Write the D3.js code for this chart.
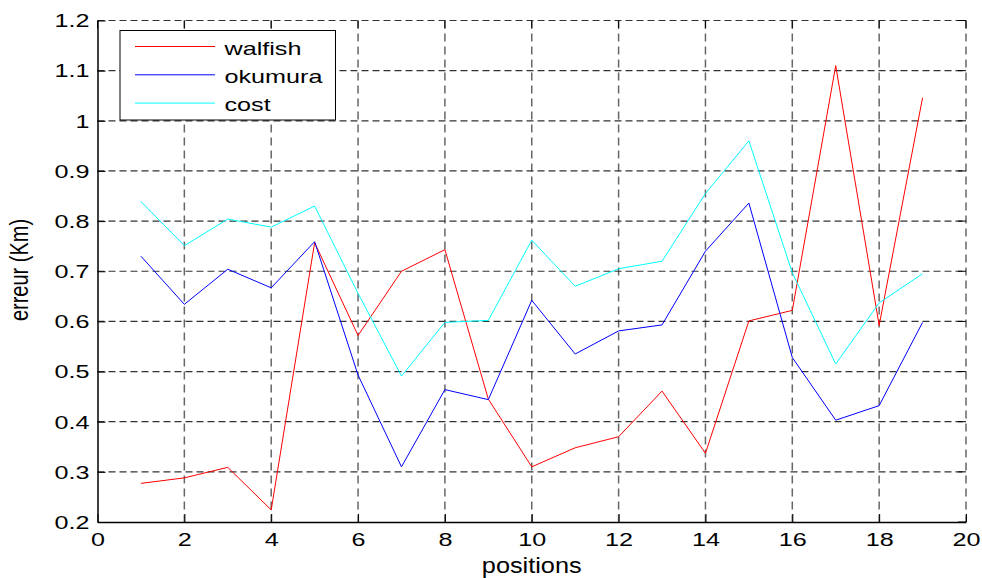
<!DOCTYPE html>
<html><head><meta charset="utf-8">
<script src="https://cdn.jsdelivr.net/npm/d3@7"></script>
<style>body{margin:0;background:#fff}svg{display:block}text{font-family:"Liberation Sans",Arial,sans-serif;fill:#000}</style>
</head><body><svg id="c" width="982" height="578"></svg>
<script>
const positions = d3.range(1, 20);
const walfish = [0.277,0.288,0.309,0.224,0.757,0.572,0.700,0.743,0.445,0.310,0.348,0.370,0.461,0.337,0.601,0.622,1.110,0.592,1.046];
const okumura = [0.730,0.634,0.704,0.667,0.759,0.493,0.310,0.464,0.444,0.642,0.535,0.581,0.593,0.740,0.836,0.528,0.403,0.432,0.598];
const cost = [0.839,0.751,0.804,0.788,0.830,0.656,0.491,0.598,0.602,0.762,0.670,0.705,0.720,0.855,0.960,0.697,0.515,0.637,0.695];
const xTicks = [0,2,4,6,8,10,12,14,16,18,20];
const yTicks = [0.2,0.3,0.4,0.5,0.6,0.7,0.8,0.9,1,1.1,1.2];
const series = [
  {name:"walfish", values:walfish, color:"#ff0000"},
  {name:"okumura", values:okumura, color:"#0000ff"},
  {name:"cost", values:cost, color:"#00ffff"}
];

const SX = 1.4; // horizontal stretch of the text in the reference
const svg = d3.select("#c");
const L=97.5, R=966, T=20.5, B=522;
const x = d3.scaleLinear().domain([0,20]).range([L,R]);
const y = d3.scaleLinear().domain([0.2,1.2]).range([B,T]);

// grid
const g = svg.append("g");
g.selectAll(".vg").data(xTicks.slice(1)).enter().append("line")
  .attr("x1",d=>x(d)).attr("x2",d=>x(d)).attr("y1",T).attr("y2",B)
  .attr("stroke","#666").attr("stroke-width",1.5).attr("stroke-dasharray","8,5");
g.selectAll(".hg").data(yTicks.slice(1)).enter().append("line")
  .attr("x1",L).attr("x2",R).attr("y1",d=>y(d)).attr("y2",d=>y(d))
  .attr("stroke","#333").attr("stroke-width",1.2).attr("stroke-dasharray","7,4");

// inner ticks on top and right
g.selectAll(".tt").data(xTicks).enter().append("line")
  .attr("x1",d=>x(d)).attr("x2",d=>x(d)).attr("y1",T).attr("y2",T+8).attr("stroke","#000");
g.selectAll(".rt").data(yTicks).enter().append("line")
  .attr("x1",R-8).attr("x2",R).attr("y1",d=>y(d)).attr("y2",d=>y(d)).attr("stroke","#000");

// axes
const xa = svg.append("g").attr("transform",`translate(0,${B})`)
  .call(d3.axisBottom(x).tickValues(xTicks).tickSizeInner(-8).tickSizeOuter(0).tickFormat(d3.format("d")));
const ya = svg.append("g").attr("transform",`translate(${L},0)`)
  .call(d3.axisLeft(y).tickValues(yTicks).tickSizeInner(-8).tickSizeOuter(0).tickFormat(d=>String(+d.toFixed(1))));
[xa,ya].forEach(a=>{
  a.selectAll("text").attr("font-size",18).attr("fill","#000").attr("font-family","Liberation Sans, Arial, sans-serif");
  a.select(".domain").attr("stroke","#000").attr("stroke-width",1.5);
  a.selectAll(".tick line").attr("stroke","#000");
});
xa.selectAll(".tick text").attr("y",24).attr("dy",0).attr("transform",`scale(${SX},1)`);
ya.selectAll(".tick text").attr("x",-8/SX).attr("dy","0.35em").attr("transform",`scale(${SX},1)`);

// lines
const line = d3.line().x((d,i)=>x(positions[i])).y(d=>y(d));
series.forEach(s=>{
  svg.append("path").datum(s.values).attr("d",line)
    .attr("fill","none").attr("stroke",s.color).attr("stroke-width",1);
});

// legend
const lg = svg.append("g");
lg.append("rect").attr("x",120).attr("y",30.5).attr("width",215.5).attr("height",89.5)
  .attr("fill","#fff").attr("stroke","#000").attr("stroke-width",1);
series.forEach((s,i)=>{
  const yy = 46.5 + i*28.3;
  lg.append("line").attr("x1",135).attr("x2",215).attr("y1",yy).attr("y2",yy).attr("stroke",s.color).attr("stroke-width",1);
  lg.append("text").attr("transform",`translate(224.5,${yy+8}) scale(${SX},1)`).attr("font-size",18).text(s.name);
});

// axis labels
svg.append("text").attr("transform",`translate(${(L+R)/2},573) scale(1.15,1)`).attr("text-anchor","middle").attr("font-size",22).text("positions");
svg.append("text").attr("transform",`translate(28,270) scale(1.3,1) rotate(-90)`).attr("text-anchor","middle").attr("font-size",20).text("erreur (Km)");
</script></body></html>
